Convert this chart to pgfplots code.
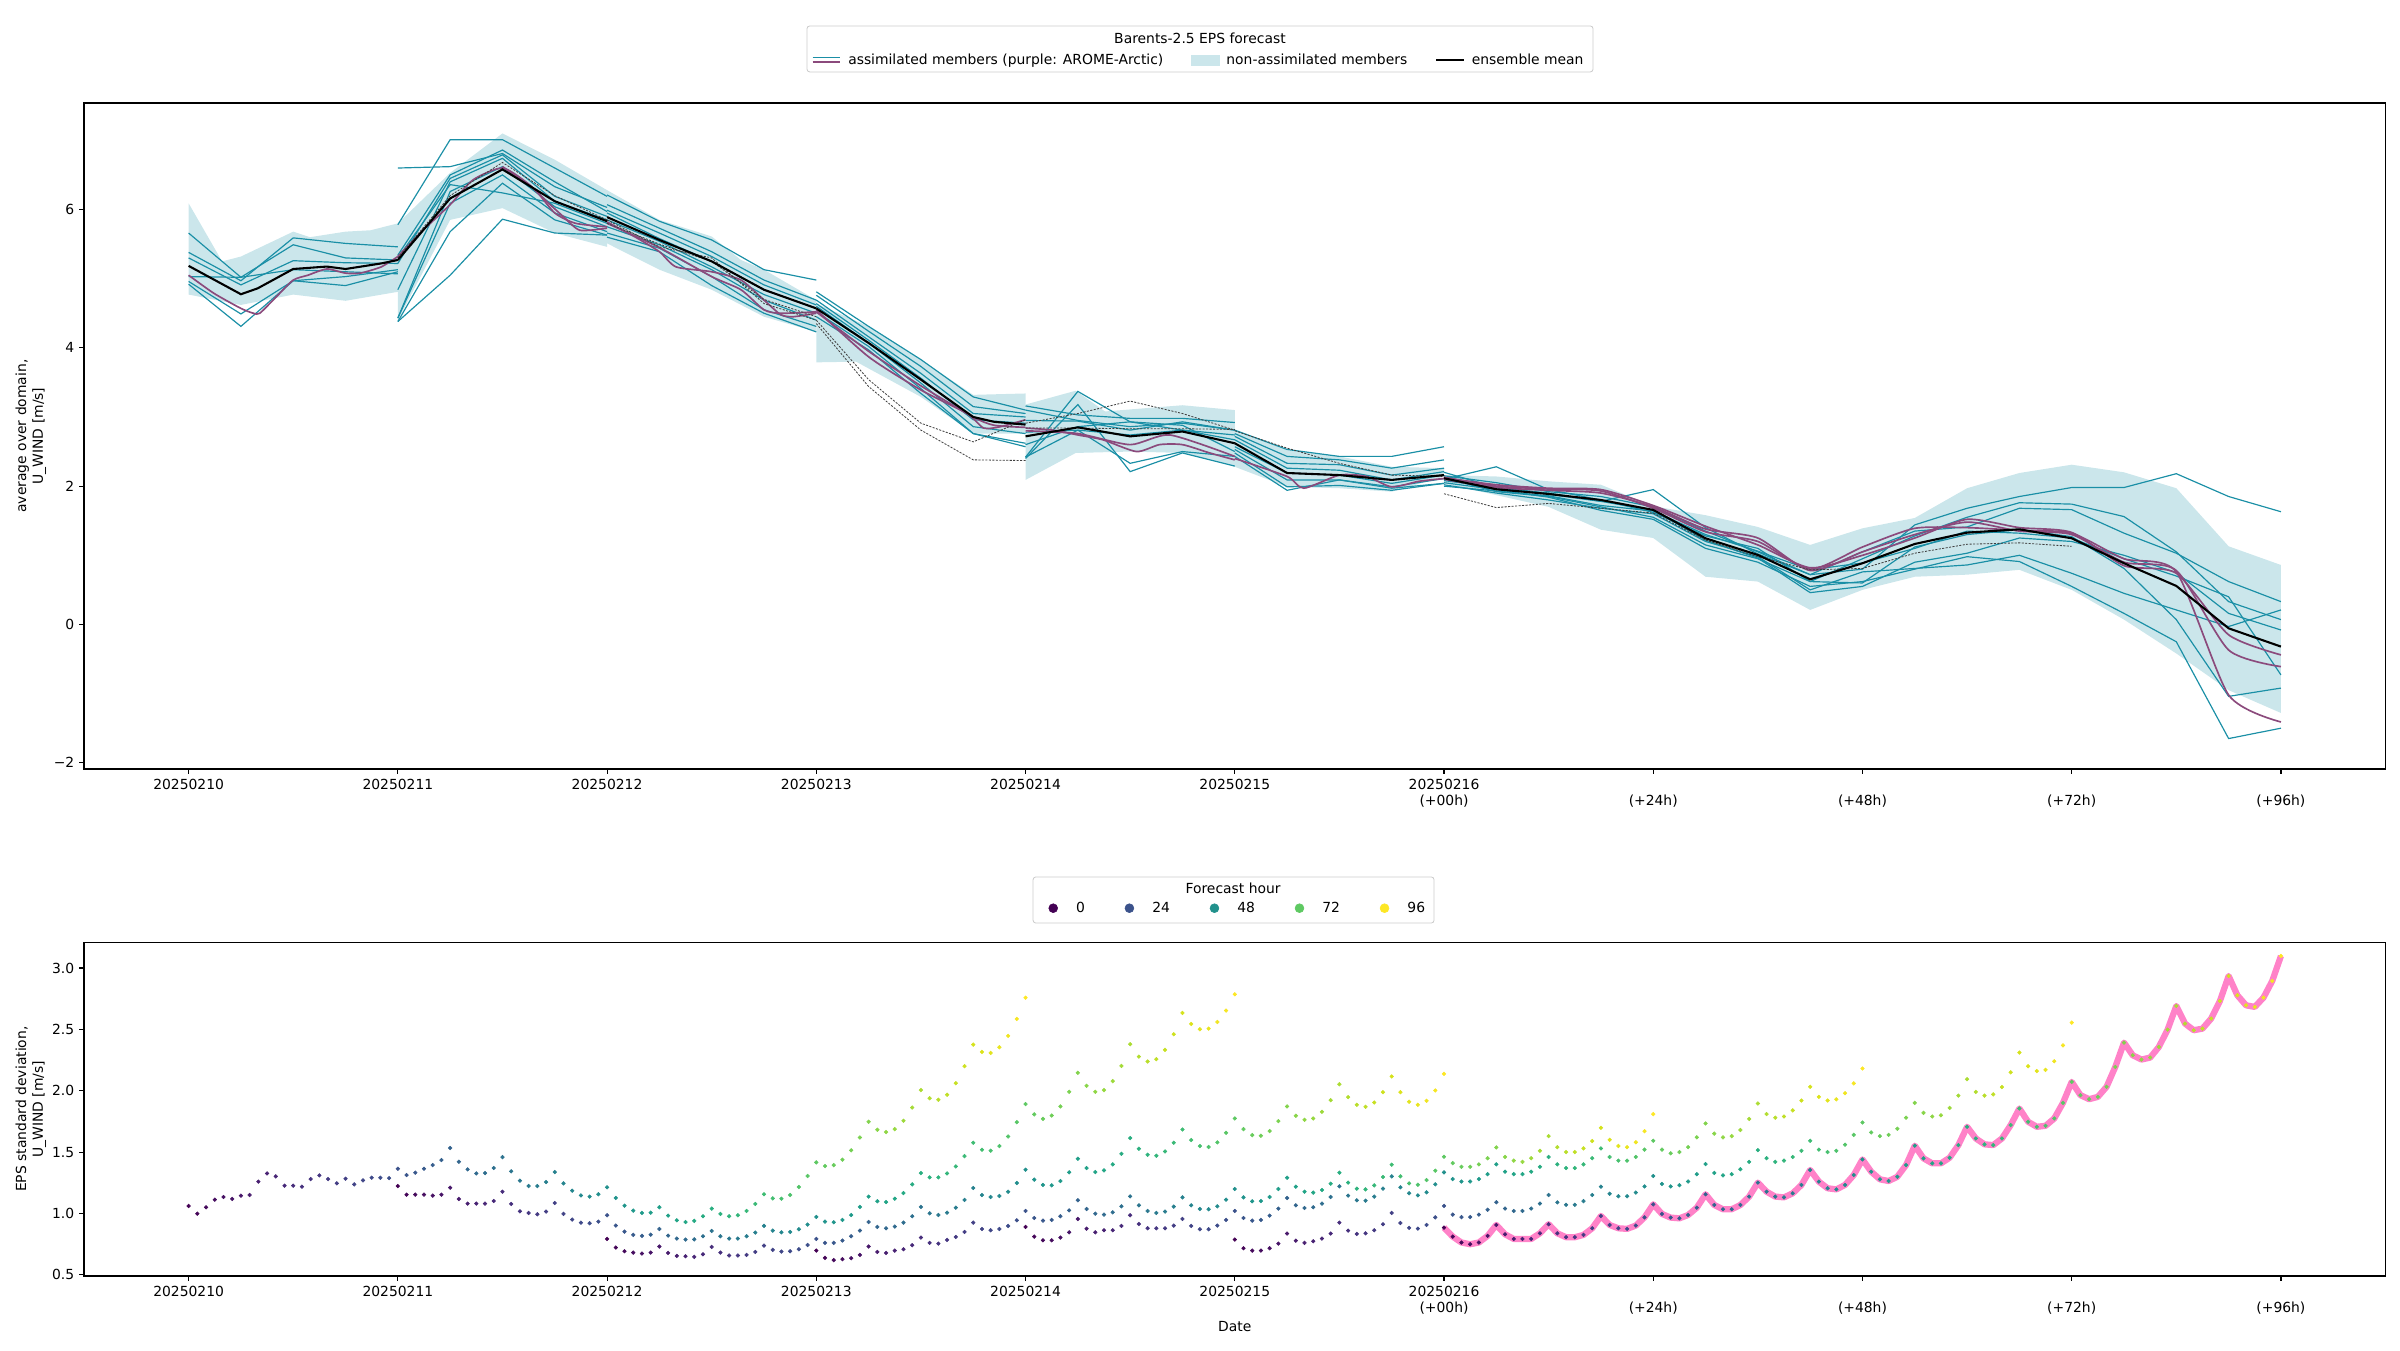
\documentclass[border=0pt]{standalone}
\usepackage{pgfplots}
\pgfplotsset{compat=1.18}
\usepackage{pgfplotstable}
\usepackage{fontspec}
\setmainfont{DejaVu Sans}
\definecolor{cyanl}{HTML}{1A8FA6}
\definecolor{bandc}{HTML}{CBE6EB}
\definecolor{purp}{HTML}{8B4A7C}
\definecolor{pinkl}{HTML}{FF82C8}
\definecolor{vira}{HTML}{440154}
\definecolor{virb}{HTML}{3B528B}
\definecolor{virc}{HTML}{21918C}
\definecolor{vird}{HTML}{5EC962}
\definecolor{vire}{HTML}{FDE725}
\pgfplotsset{
  cy/.style={cyanl, line width=0.85pt, forget plot},
  pu/.style={purp, line width=1.2pt, smooth, tension=0.4, forget plot},
  mn/.style={black, line width=1.5pt, forget plot},
  dt/.style={black!75, line width=0.6pt, dash pattern=on 1.5pt off 1pt, forget plot},
  bd/.style={fill=bandc, draw=none, forget plot},
  sc/.style={scatter, only marks, mark=*, mark size=1.3pt, forget plot, point meta=explicit,
     scatter/use mapped color={draw=mapped color, fill=mapped color}},
}
\newcommand{\segl}[3]{\addplot[#1] table[x expr=\coordindex/4+#2, y index=0, header=false, row sep=\\]{#3};}

\pgfplotstableread[row sep=\\]{v\\1.061\\0.998\\1.050\\1.112\\1.134\\1.118\\1.145\\1.150\\1.259\\1.326\\1.302\\1.226\\1.226\\1.218\\1.280\\1.310\\1.280\\1.245\\1.283\\1.237\\1.269\\1.291\\1.291\\1.288\\1.364\\1.313\\1.332\\1.364\\1.394\\1.435\\1.533\\1.421\\1.359\\1.326\\1.329\\1.370\\1.459\\1.343\\1.267\\1.223\\1.223\\1.256\\1.337\\1.245\\1.185\\1.147\\1.137\\1.156\\1.213\\1.126\\1.063\\1.023\\1.004\\1.006\\1.050\\0.982\\0.944\\0.930\\0.939\\0.977\\1.039\\0.996\\0.977\\0.985\\1.020\\1.077\\1.156\\1.123\\1.120\\1.150\\1.215\\1.305\\1.416\\1.386\\1.394\\1.438\\1.514\\1.619\\1.747\\1.682\\1.663\\1.687\\1.755\\1.863\\2.005\\1.939\\1.926\\1.967\\2.061\\2.200\\2.376\\2.316\\2.308\\2.354\\2.447\\2.585\\2.758\\}\Fzero
\pgfplotstableread[row sep=\\]{v\\1.223\\1.153\\1.153\\1.153\\1.145\\1.153\\1.210\\1.118\\1.080\\1.080\\1.080\\1.101\\1.177\\1.077\\1.017\\1.004\\0.993\\1.015\\1.085\\0.996\\0.950\\0.925\\0.920\\0.933\\0.985\\0.901\\0.852\\0.825\\0.817\\0.827\\0.873\\0.819\\0.795\\0.787\\0.789\\0.814\\0.857\\0.814\\0.795\\0.795\\0.814\\0.844\\0.898\\0.860\\0.846\\0.849\\0.871\\0.909\\0.971\\0.933\\0.928\\0.947\\0.987\\1.053\\1.137\\1.099\\1.093\\1.120\\1.166\\1.237\\1.329\\1.294\\1.294\\1.326\\1.383\\1.467\\1.576\\1.519\\1.511\\1.549\\1.627\\1.744\\1.891\\1.807\\1.771\\1.798\\1.872\\1.991\\2.146\\2.040\\1.991\\2.005\\2.078\\2.202\\2.379\\2.278\\2.238\\2.257\\2.333\\2.460\\2.634\\2.544\\2.501\\2.506\\2.560\\2.653\\2.786\\}\Fone
\pgfplotstableread[row sep=\\]{v\\0.792\\0.722\\0.692\\0.681\\0.673\\0.681\\0.730\\0.678\\0.654\\0.651\\0.646\\0.667\\0.727\\0.681\\0.657\\0.657\\0.662\\0.686\\0.738\\0.703\\0.689\\0.692\\0.708\\0.743\\0.792\\0.760\\0.760\\0.779\\0.814\\0.860\\0.930\\0.890\\0.879\\0.893\\0.925\\0.977\\1.053\\1.001\\0.987\\1.006\\1.047\\1.110\\1.207\\1.150\\1.134\\1.142\\1.177\\1.248\\1.356\\1.275\\1.232\\1.229\\1.264\\1.335\\1.446\\1.370\\1.337\\1.351\\1.400\\1.486\\1.614\\1.527\\1.478\\1.470\\1.505\\1.576\\1.684\\1.598\\1.549\\1.541\\1.579\\1.657\\1.774\\1.687\\1.638\\1.633\\1.671\\1.752\\1.872\\1.796\\1.763\\1.774\\1.828\\1.923\\2.053\\1.948\\1.885\\1.869\\1.904\\1.988\\2.116\\1.988\\1.910\\1.885\\1.918\\2.002\\2.137\\}\Ftwo
\pgfplotstableread[row sep=\\]{v\\0.697\\0.638\\0.619\\0.627\\0.635\\0.662\\0.730\\0.686\\0.678\\0.697\\0.708\\0.741\\0.803\\0.760\\0.754\\0.784\\0.808\\0.849\\0.925\\0.873\\0.863\\0.873\\0.898\\0.944\\1.020\\0.963\\0.941\\0.947\\0.977\\1.025\\1.107\\1.036\\0.998\\0.990\\1.009\\1.058\\1.139\\1.066\\1.020\\1.004\\1.015\\1.055\\1.131\\1.066\\1.036\\1.034\\1.058\\1.112\\1.199\\1.131\\1.099\\1.101\\1.134\\1.199\\1.291\\1.218\\1.177\\1.169\\1.191\\1.242\\1.332\\1.251\\1.202\\1.196\\1.229\\1.297\\1.397\\1.302\\1.245\\1.234\\1.272\\1.348\\1.462\\1.41\\1.38\\1.38\\1.40\\1.45\\1.538\\1.46\\1.43\\1.42\\1.45\\1.51\\1.630\\1.54\\1.50\\1.50\\1.53\\1.59\\1.698\\1.60\\1.55\\1.54\\1.58\\1.67\\1.809\\}\Fthree
\pgfplotstableread[row sep=\\]{v\\0.890\\0.811\\0.781\\0.781\\0.803\\0.846\\0.955\\0.876\\0.846\\0.863\\0.863\\0.898\\0.985\\0.914\\0.879\\0.879\\0.879\\0.901\\0.955\\0.898\\0.871\\0.871\\0.901\\0.947\\1.020\\0.963\\0.941\\0.947\\0.982\\1.039\\1.126\\1.066\\1.044\\1.050\\1.080\\1.134\\1.221\\1.145\\1.107\\1.104\\1.137\\1.202\\1.302\\1.213\\1.164\\1.147\\1.172\\1.237\\1.335\\1.28\\1.26\\1.26\\1.28\\1.32\\1.40\\1.34\\1.32\\1.32\\1.34\\1.38\\1.46\\1.40\\1.37\\1.37\\1.40\\1.45\\1.53\\1.46\\1.43\\1.43\\1.46\\1.52\\1.592\\1.52\\1.49\\1.50\\1.54\\1.62\\1.733\\1.65\\1.62\\1.63\\1.68\\1.77\\1.896\\1.81\\1.78\\1.79\\1.84\\1.92\\2.032\\1.95\\1.92\\1.93\\1.98\\2.06\\2.181\\}\Ffour
\pgfplotstableread[row sep=\\]{v\\0.787\\0.716\\0.697\\0.697\\0.716\\0.754\\0.836\\0.778\\0.760\\0.773\\0.795\\0.836\\0.925\\0.860\\0.833\\0.838\\0.863\\0.912\\1.004\\0.922\\0.882\\0.876\\0.906\\0.968\\1.061\\0.99\\0.97\\0.97\\0.99\\1.03\\1.091\\1.04\\1.02\\1.02\\1.04\\1.08\\1.150\\1.09\\1.07\\1.07\\1.10\\1.15\\1.218\\1.16\\1.14\\1.14\\1.17\\1.22\\1.305\\1.24\\1.22\\1.23\\1.26\\1.32\\1.402\\1.33\\1.31\\1.32\\1.36\\1.42\\1.516\\1.45\\1.42\\1.43\\1.46\\1.51\\1.592\\1.52\\1.50\\1.51\\1.56\\1.64\\1.741\\1.66\\1.63\\1.64\\1.69\\1.78\\1.901\\1.82\\1.79\\1.80\\1.86\\1.96\\2.094\\1.99\\1.96\\1.97\\2.03\\2.15\\2.311\\2.20\\2.16\\2.17\\2.24\\2.37\\2.555\\}\Ffive
\pgfplotstableread[row sep=\\]{v\\0.884\\0.811\\0.763\\0.749\\0.763\\0.817\\0.906\\0.830\\0.792\\0.792\\0.792\\0.838\\0.912\\0.838\\0.806\\0.806\\0.825\\0.879\\0.979\\0.906\\0.879\\0.874\\0.901\\0.968\\1.074\\0.996\\0.966\\0.960\\0.987\\1.047\\1.156\\1.069\\1.034\\1.034\\1.069\\1.137\\1.251\\1.177\\1.137\\1.131\\1.164\\1.232\\1.354\\1.259\\1.205\\1.196\\1.232\\1.313\\1.440\\1.340\\1.278\\1.264\\1.299\\1.394\\1.552\\1.449\\1.408\\1.408\\1.454\\1.557\\1.706\\1.611\\1.563\\1.557\\1.611\\1.720\\1.855\\1.747\\1.706\\1.714\\1.774\\1.901\\2.072\\1.964\\1.931\\1.950\\2.032\\2.194\\2.392\\2.289\\2.254\\2.270\\2.357\\2.498\\2.691\\2.547\\2.493\\2.506\\2.588\\2.731\\2.935\\2.778\\2.696\\2.683\\2.759\\2.894\\3.098\\}\Fsix
\pgfplotstablecreatecol[expr={\pgfplotstablerow}]{h}\Fzero
\pgfplotstablecreatecol[expr={\pgfplotstablerow}]{h}\Fone
\pgfplotstablecreatecol[expr={\pgfplotstablerow}]{h}\Ftwo
\pgfplotstablecreatecol[expr={\pgfplotstablerow}]{h}\Fthree
\pgfplotstablecreatecol[expr={\pgfplotstablerow}]{h}\Ffour
\pgfplotstablecreatecol[expr={\pgfplotstablerow}]{h}\Ffive
\pgfplotstablecreatecol[expr={\pgfplotstablerow}]{h}\Fsix

\begin{document}
\begin{tikzpicture}
\path (0pt,0pt) rectangle (1728pt,972pt);
% legend frames and titles
\draw[black!20, fill=white, rounded corners=2pt, line width=0.6pt] (581pt,920.2pt) rectangle (1147pt,953.3pt);
\node at (864pt,944.6pt) {Barents-2.5 EPS forecast};
\draw[black!20, fill=white, rounded corners=2pt, line width=0.6pt] (743.8pt,307.4pt) rectangle (1032.5pt,340.6pt);
\node at (887.8pt,332.6pt) {Forecast hour};

\begin{axis}[
  at={(60.48pt,418.32pt)}, anchor=south west,
  scale only axis, width=1657.1pt, height=479.5pt,
  xmin=-0.5, xmax=10.5, ymin=-2.09, ymax=7.54,
  xtick={0,1,2,3,4,5,6,7,8,9,10},
  xticklabels={20250210,20250211,20250212,20250213,20250214,20250215,{20250216\\(+00h)},{\vphantom{0}\\(+24h)},{\vphantom{0}\\(+48h)},{\vphantom{0}\\(+72h)},{\vphantom{0}\\(+96h)}},
  xticklabel style={align=center},
  ytick={-2,0,2,4,6}, yticklabels={−2,0,2,4,6},
  tick align=outside, xtick pos=left, ytick pos=left,
  major tick length=3.5pt,
  every tick/.style={black, line width=0.8pt},
  axis line style={line width=0.8pt},
  ylabel={average over domain,\\U\_WIND [m/s]},
  every axis y label/.style={at={(axis description cs:-0.0143,0.5)}, rotate=90, anchor=south, align=center},
  legend columns=3,
  legend style={at={(axis description cs:0.4845,1.0647)}, anchor=center, draw=none, fill=none,
     /tikz/every odd column/.append style={column sep=3pt},
     /tikz/every even column/.append style={column sep=18pt}},
  legend cell align=left,
]
% bands
\addplot[bd] coordinates {(0,6.09)(0.16,5.25)(0.25,5.32)(0.5,5.68)(0.58,5.60)(0.75,5.68)(0.87,5.70)(1,5.80)(1,4.81)(0.75,4.68)(0.5,4.77)(0.25,4.62)(0,4.77)} --cycle;
\addplot[bd] coordinates {(1,5.80)(1.25,6.53)(1.5,7.10)(1.75,6.72)(2,6.28)(2,5.46)(1.75,5.66)(1.5,6.02)(1.25,5.85)(1,4.40)} --cycle;
\addplot[bd] coordinates {(2,6.28)(2.25,5.85)(2.5,5.61)(2.64,5.27)(2.75,5.13)(3,4.69)(3,4.23)(2.75,4.45)(2.5,4.84)(2.25,5.13)(2,5.51)} --cycle;
\addplot[bd] coordinates {(3,4.64)(3.25,4.31)(3.5,3.83)(3.75,3.32)(4,3.34)(4,2.76)(3.75,2.76)(3.5,3.29)(3.19,3.80)(3,3.79)} --cycle;
\addplot[bd] coordinates {(4,3.18)(4.24,3.38)(4.38,3.08)(4.75,3.17)(5,3.10)(5,2.28)(4.75,2.48)(4.5,2.50)(4.24,2.48)(4,2.09)} --cycle;
\addplot[bd] coordinates {(5,2.81)(5.25,2.52)(5.5,2.43)(5.75,2.28)(6,2.26)(6,2.14)(5.75,1.92)(5.5,1.97)(5.25,1.99)(5,2.28)} --cycle;
\addplot[bd] coordinates {(6,2.16)(6.25,2.14)(6.5,2.07)(6.75,2.02)(7,1.71)(7.25,1.58)(7.5,1.41)(7.75,1.15)(8,1.39)(8.25,1.54)(8.5,1.97)(8.75,2.19)(9,2.31)(9.25,2.20)(9.5,1.97)(9.75,1.13)(10,0.86)(10,-1.28)(9.75,-0.95)(9.5,-0.42)(9.25,0.07)(9,0.50)(8.75,0.79)(8.5,0.72)(8.25,0.69)(8,0.50)(7.75,0.21)(7.5,0.62)(7.25,0.69)(7,1.25)(6.75,1.37)(6.5,1.70)(6.25,1.87)(6,2.04)} --cycle;
% seg 0
\segl{cy}{0}{5.66\\5.02\\5.49\\5.30\\5.27\\}
\segl{cy}{0}{5.38\\4.97\\5.59\\5.51\\5.46\\}
\segl{cy}{0}{5.30\\4.91\\5.26\\5.23\\5.22\\}
\segl{cy}{0}{5.03\\5.02\\5.13\\5.10\\5.07\\}
\segl{cy}{0}{4.96\\4.49\\4.97\\4.90\\5.10\\}
\segl{cy}{0}{4.92\\4.31\\4.97\\5.03\\5.13\\}
% seg 1
\segl{cy}{1}{5.78\\7.01\\7.01\\6.60\\6.19\\}
\segl{cy}{1}{6.60\\6.62\\6.81\\6.33\\6.03\\}
\segl{cy}{1}{5.34\\6.50\\6.86\\6.40\\5.97\\}
\segl{cy}{1}{5.22\\6.45\\6.79\\6.19\\5.90\\}
\segl{cy}{1}{4.84\\6.40\\6.74\\6.12\\5.85\\}
\segl{cy}{1}{4.43\\6.26\\6.62\\6.04\\5.75\\}
\segl{cy}{1}{4.43\\6.09\\6.50\\5.95\\5.68\\}
\segl{cy}{1}{4.38\\5.68\\6.38\\5.85\\5.63\\}
\segl{cy}{1}{4.38\\5.05\\5.86\\5.66\\5.63\\}
\segl{cy}{1}{5.30\\6.36\\6.24\\6.09\\5.80\\}
% seg 2
\segl{cy}{2}{6.21\\5.83\\5.56\\5.13\\4.98\\}
\segl{cy}{2}{6.07\\5.73\\5.39\\4.98\\4.69\\}
\segl{cy}{2}{5.99\\5.66\\5.32\\4.91\\4.62\\}
\segl{cy}{2}{5.95\\5.58\\5.25\\4.84\\4.57\\}
\segl{cy}{2}{5.85\\5.54\\5.17\\4.77\\4.50\\}
\segl{cy}{2}{5.75\\5.49\\5.13\\4.69\\4.40\\}
\segl{cy}{2}{5.66\\5.44\\5.03\\4.55\\4.31\\}
\segl{cy}{2}{5.60\\5.39\\4.90\\4.50\\4.23\\}
% seg 3
\segl{cy}{3}{4.81\\4.31\\3.83\\3.29\\3.10\\}
\segl{cy}{3}{4.76\\4.24\\3.73\\3.15\\3.05\\}
\segl{cy}{3}{4.69\\4.16\\3.63\\3.05\\3.00\\}
\segl{cy}{3}{4.64\\4.11\\3.56\\2.96\\2.91\\}
\segl{cy}{3}{4.60\\4.07\\3.49\\2.86\\2.76\\}
\segl{cy}{3}{4.52\\4.02\\3.41\\2.76\\2.62\\}
\segl{cy}{3}{4.45\\3.97\\3.34\\2.76\\2.57\\}
% seg 4
\segl{cy}{4}{3.16\\3.03\\2.98\\2.98\\2.92\\}
\segl{cy}{4}{3.10\\2.95\\2.86\\2.91\\2.81\\}
\segl{cy}{4}{2.42\\3.37\\2.93\\2.81\\2.74\\}
\segl{cy}{4}{2.40\\3.18\\2.21\\2.48\\2.29\\}
\segl{cy}{4}{2.42\\2.81\\2.33\\2.50\\2.43\\}
\segl{cy}{4}{2.95\\2.94\\2.81\\2.93\\2.81\\}
\segl{cy}{4}{2.78\\2.81\\2.74\\2.81\\2.67\\}
\segl{cy}{4}{2.60\\2.86\\2.93\\2.88\\2.50\\}
% seg 5
\segl{cy}{5}{2.81\\2.53\\2.43\\2.43\\2.57\\}
\segl{cy}{5}{2.76\\2.43\\2.38\\2.26\\2.38\\}
\segl{cy}{5}{2.72\\2.33\\2.31\\2.16\\2.26\\}
\segl{cy}{5}{2.67\\2.26\\2.23\\2.09\\2.21\\}
\segl{cy}{5}{2.57\\2.19\\2.16\\2.04\\2.16\\}
\segl{cy}{5}{2.53\\2.09\\2.09\\1.99\\2.11\\}
\segl{cy}{5}{2.48\\1.99\\2.01\\1.94\\2.04\\}
\segl{cy}{5}{2.43\\1.94\\2.09\\1.97\\2.04\\}
% seg 6
\segl{cy}{6}{2.15\\2.05\\1.92\\1.85\\1.70\\1.35\\1.05\\0.72\\0.80\\1.44\\1.68\\1.85\\1.98\\1.98\\2.18\\1.85\\1.63\\}
\segl{cy}{6}{2.10\\2.28\\1.95\\1.80\\1.62\\1.28\\1.10\\0.62\\0.95\\1.28\\1.55\\1.76\\1.74\\1.56\\1.05\\0.33\\0.07\\}
\segl{cy}{6}{2.08\\1.98\\1.88\\1.78\\1.95\\1.40\\1.02\\0.72\\1.05\\1.35\\1.41\\1.68\\1.66\\1.32\\1.03\\0.62\\0.33\\}
\segl{cy}{6}{2.12\\1.92\\1.85\\1.70\\1.55\\1.15\\0.95\\0.62\\0.60\\1.12\\1.30\\1.37\\1.27\\0.81\\0.07\\-1.04\\-0.92\\}
\segl{cy}{6}{2.05\\1.95\\1.84\\1.65\\1.52\\1.10\\0.90\\0.55\\0.62\\0.80\\0.98\\0.91\\0.55\\0.16\\-0.25\\-1.65\\-1.50\\}
\segl{cy}{6}{2.02\\1.90\\1.80\\1.68\\1.60\\1.20\\0.98\\0.50\\0.76\\0.81\\0.86\\1.00\\0.74\\0.45\\0.21\\-0.03\\0.21\\}
\segl{cy}{6}{2.20\\1.98\\1.90\\1.78\\1.65\\1.22\\0.96\\0.46\\0.55\\0.90\\1.03\\1.25\\1.20\\1.00\\0.75\\0.16\\-0.08\\}
\segl{cy}{6}{2.00\\1.93\\1.86\\1.72\\1.64\\1.30\\1.06\\0.79\\0.89\\1.10\\1.35\\1.32\\1.25\\0.95\\0.70\\0.40\\-0.73\\}
% purple
\addplot[pu] coordinates {(0,5.05)(0.12,4.79)(0.25,4.57)(0.31,4.50)(0.34,4.50)(0.42,4.74)(0.5,4.98)(0.57,5.05)(0.66,5.14)(0.75,5.08)(0.82,5.08)(0.92,5.17)(1,5.32)};
\addplot[pu] coordinates {(1,5.32)(1.12,5.70)(1.25,6.07)(1.36,6.43)(1.5,6.60)(1.62,6.38)(1.71,6.12)(1.79,5.90)(1.87,5.70)(2,5.73)};
\addplot[pu] coordinates {(1.5,6.62)(1.65,6.30)(1.75,5.95)(1.85,5.80)(2,5.75)};
\addplot[pu] coordinates {(2,5.82)(2.13,5.61)(2.25,5.39)(2.33,5.17)(2.5,5.10)(2.64,4.98)(2.75,4.69)(2.83,4.48)(2.89,4.45)(3,4.50)};
\addplot[pu] coordinates {(2,5.80)(2.25,5.45)(2.5,5.03)(2.64,4.84)(2.75,4.55)(2.83,4.50)(3,4.52)};
\addplot[pu] coordinates {(3,4.55)(3.25,3.87)(3.5,3.39)(3.72,3.05)(3.8,2.84)(3.88,2.86)(4,2.96)};
\addplot[pu] coordinates {(3,4.52)(3.25,3.95)(3.5,3.45)(3.75,3.00)(3.85,2.88)(4,2.85)};
\addplot[pu] coordinates {(4,2.84)(4.13,2.81)(4.25,2.74)(4.37,2.67)(4.53,2.50)(4.64,2.60)(4.75,2.60)(4.88,2.48)(5,2.38)};
\addplot[pu] coordinates {(4,2.80)(4.25,2.76)(4.5,2.60)(4.69,2.74)(5,2.43)};
\addplot[pu] coordinates {(5,2.40)(5.25,2.14)(5.33,1.97)(5.5,2.16)(5.63,2.14)(5.75,1.99)(5.88,2.07)(6,2.11)};
\addplot[pu] coordinates {(6,2.13)(6.25,2.00)(6.5,1.96)(6.75,1.93)(7,1.68)(7.25,1.34)(7.5,1.20)(7.75,0.80)(8,1.12)(8.25,1.39)(8.5,1.40)(8.75,1.36)(9,1.32)(9.25,0.95)(9.5,0.76)(9.75,-1.02)(10,-1.41)};
\addplot[pu] coordinates {(6,2.10)(6.25,1.98)(6.5,1.94)(6.75,1.90)(7,1.70)(7.25,1.38)(7.5,1.25)(7.75,0.78)(8,1.05)(8.25,1.30)(8.5,1.48)(8.75,1.35)(9,1.30)(9.25,0.90)(9.5,0.78)(9.75,-0.37)(10,-0.61)};
\addplot[pu] coordinates {(6,2.12)(6.25,2.02)(6.5,1.97)(6.75,1.95)(7,1.72)(7.25,1.42)(7.5,1.15)(7.75,0.82)(8,1.00)(8.25,1.25)(8.5,1.52)(8.75,1.40)(9,1.33)(9.25,0.85)(9.5,0.74)(9.75,-0.15)(10,-0.44)};
% dotted
\addplot[dt] coordinates {(1,5.30)(1.25,6.20)(1.5,6.68)(1.75,6.20)(2,5.85)};
\addplot[dt] coordinates {(2,5.85)(2.25,5.46)(2.5,5.30)(2.75,4.64)(3,4.40)};
\addplot[dt] coordinates {(2,5.80)(2.25,5.50)(2.5,5.25)(2.75,4.70)(3,4.45)};
\addplot[dt] coordinates {(3,4.40)(3.25,3.54)(3.5,2.91)(3.75,2.64)(4,2.96)};
\addplot[dt] coordinates {(3,4.35)(3.25,3.44)(3.5,2.81)(3.75,2.38)(4,2.37)};
\addplot[dt] coordinates {(4,2.91)(4.25,3.05)(4.5,3.23)(4.75,3.05)(5,2.81)};
\addplot[dt] coordinates {(4,2.84)(4.25,2.84)(4.5,2.83)(4.75,2.83)(5,2.82)};
\addplot[dt] coordinates {(5,2.80)(5.25,2.55)(5.5,2.33)(5.75,2.16)(6,2.14)};
\addplot[dt] coordinates {(6,1.89)(6.25,1.69)(6.5,1.75)(7,1.61)(7.25,1.22)(7.5,0.98)(7.75,0.79)(8,0.81)(8.25,1.03)(8.5,1.16)(8.75,1.18)(9,1.13)};
% mean
\addplot[mn] coordinates {(0,5.185)(0.25,4.775)(0.33,4.86)(0.5,5.14)(0.66,5.175)(0.75,5.14)(0.92,5.22)(1,5.27)};
\segl{mn}{1}{5.27\\6.16\\6.58\\6.12\\5.83\\}
\segl{mn}{2}{5.89\\5.56\\5.25\\4.84\\4.57\\}
\addplot[mn] coordinates {(3,4.57)(3.25,4.07)(3.5,3.54)(3.75,3.00)(3.85,2.93)(4,2.89)};
\segl{mn}{4}{2.72\\2.85\\2.72\\2.79\\2.62\\}
\segl{mn}{5}{2.62\\2.19\\2.16\\2.09\\2.16\\}
\segl{mn}{6}{2.114\\1.955\\1.887\\1.80\\1.656\\1.246\\1.005\\0.653\\0.885\\1.164\\1.328\\1.376\\1.246\\0.885\\0.557\\-0.056\\-0.32\\}
% legend
\addlegendimage{legend image code/.code={\draw[cyanl, line width=0.85pt] (0pt,1.6pt) -- (20pt,1.6pt); \draw[purp, line width=1.2pt] (0pt,-1.6pt) -- (20pt,-1.6pt);}}
\addlegendentry{assimilated members (purple: AROME-Arctic)}
\addlegendimage{legend image code/.code={\fill[bandc] (0pt,-3.5pt) rectangle (20pt,3.5pt);}}
\addlegendentry{non-assimilated members}
\addlegendimage{legend image code/.code={\draw[black, line width=1.5pt] (0pt,0pt) -- (20pt,0pt);}}
\addlegendentry{ensemble mean}
\end{axis}

\begin{axis}[
  at={(60.48pt,53.28pt)}, anchor=south west,
  scale only axis, width=1657.1pt, height=240.3pt,
  xmin=-0.5, xmax=10.5, ymin=0.49, ymax=3.21,
  xtick={0,1,2,3,4,5,6,7,8,9,10},
  xticklabels={20250210,20250211,20250212,20250213,20250214,20250215,{20250216\\(+00h)},{\vphantom{0}\\(+24h)},{\vphantom{0}\\(+48h)},{\vphantom{0}\\(+72h)},{\vphantom{0}\\(+96h)}},
  xticklabel style={align=center},
  ytick={0.5,1,1.5,2,2.5,3}, yticklabels={0.5,1.0,1.5,2.0,2.5,3.0},
  tick align=outside, xtick pos=left, ytick pos=left,
  major tick length=3.5pt,
  every tick/.style={black, line width=0.8pt},
  axis line style={line width=0.8pt},
  ylabel={EPS standard deviation,\\U\_WIND [m/s]},
  every axis y label/.style={at={(axis description cs:-0.0143,0.5)}, rotate=90, anchor=south, align=center},
  xlabel={Date},
  every axis x label/.style={at={(axis description cs:0.5,0)}, anchor=center, yshift=-36.7pt},
  colormap/viridis, point meta min=0, point meta max=96,
  legend columns=5,
  legend style={at={(axis description cs:0.4995,1.102)}, anchor=center, draw=none, fill=none,
     /tikz/every odd column/.append style={column sep=4.5pt},
     /tikz/every even column/.append style={column sep=20pt}},
  legend cell align=left,
]
\addplot[pinkl, line width=4.5pt, line join=round, forget plot] table[x expr=\thisrow{h}/24+6, y=v]{\Fsix};
\addplot[sc] table[x expr=\thisrow{h}/24, y=v, meta=h]{\Fzero};
\addplot[sc] table[x expr=\thisrow{h}/24+1, y=v, meta=h]{\Fone};
\addplot[sc] table[x expr=\thisrow{h}/24+2, y=v, meta=h]{\Ftwo};
\addplot[sc] table[x expr=\thisrow{h}/24+3, y=v, meta=h]{\Fthree};
\addplot[sc] table[x expr=\thisrow{h}/24+4, y=v, meta=h]{\Ffour};
\addplot[sc] table[x expr=\thisrow{h}/24+5, y=v, meta=h]{\Ffive};
\addplot[sc] table[x expr=\thisrow{h}/24+6, y=v, meta=h]{\Fsix};
\addlegendimage{legend image code/.code={\path[draw=none, fill=none] (0pt,-1pt) rectangle (20pt,1pt); \fill[vira] (10pt,0pt) circle (3.2pt);}}
\addlegendentry{0}
\addlegendimage{legend image code/.code={\path[draw=none, fill=none] (0pt,-1pt) rectangle (20pt,1pt); \fill[virb] (10pt,0pt) circle (3.2pt);}}
\addlegendentry{24}
\addlegendimage{legend image code/.code={\path[draw=none, fill=none] (0pt,-1pt) rectangle (20pt,1pt); \fill[virc] (10pt,0pt) circle (3.2pt);}}
\addlegendentry{48}
\addlegendimage{legend image code/.code={\path[draw=none, fill=none] (0pt,-1pt) rectangle (20pt,1pt); \fill[vird] (10pt,0pt) circle (3.2pt);}}
\addlegendentry{72}
\addlegendimage{legend image code/.code={\path[draw=none, fill=none] (0pt,-1pt) rectangle (20pt,1pt); \fill[vire] (10pt,0pt) circle (3.2pt);}}
\addlegendentry{96}
\end{axis}
\end{tikzpicture}
\end{document}
